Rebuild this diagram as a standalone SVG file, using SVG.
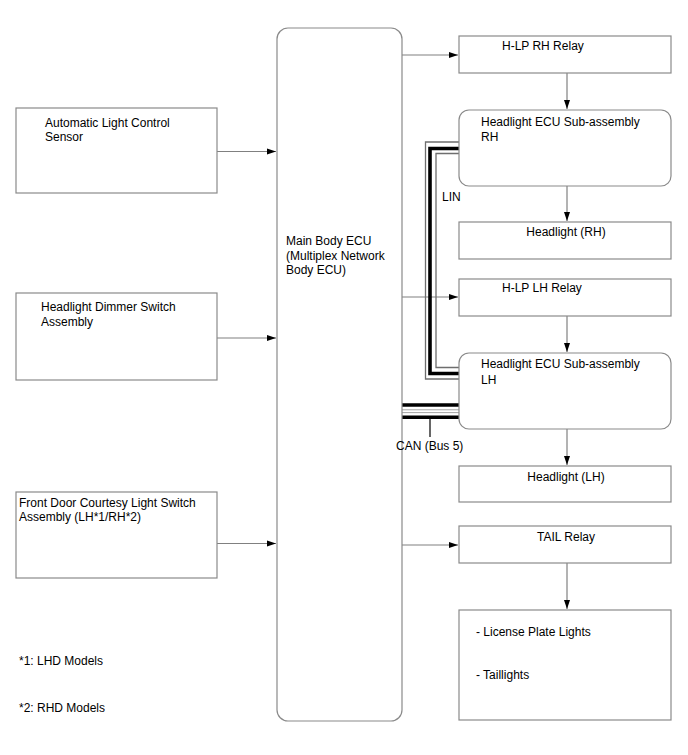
<svg xmlns="http://www.w3.org/2000/svg" width="688" height="755" viewBox="0 0 688 755">
<style>
.box{fill:#fff;stroke:#8a8a8a;stroke-width:1.2}
.t{font-family:"Liberation Sans",Arial,sans-serif;font-size:12px;fill:#000}
.c{text-anchor:middle}
.ln{fill:none;stroke:#808080;stroke-width:1.2}
.bus{fill:none;stroke:#000;stroke-width:3.6}
.g{fill:none;stroke:#6e6e6e;stroke-width:1.3}
.gc{fill:none;stroke:#9a9a9a;stroke-width:0.9}
</style>
<defs>
<marker id="ah" markerWidth="10" markerHeight="8" refX="9" refY="4" orient="auto" markerUnits="userSpaceOnUse">
<path d="M0,1 L9,4 L0,7 Z" fill="#000"/>
</marker>
</defs>
<rect width="688" height="755" fill="#fff"/>

<g id="connectors">
<line class="ln" x1="217" y1="151.5" x2="276" y2="151.5" marker-end="url(#ah)"/>
<line class="ln" x1="217" y1="338" x2="276" y2="338" marker-end="url(#ah)"/>
<line class="ln" x1="217" y1="543.5" x2="276" y2="543.5" marker-end="url(#ah)"/>
<line class="ln" x1="402" y1="55" x2="458" y2="55" marker-end="url(#ah)"/>
<line class="ln" x1="402" y1="297" x2="458" y2="297" marker-end="url(#ah)"/>
<line class="ln" x1="402" y1="545" x2="458" y2="545" marker-end="url(#ah)"/>
<line class="ln" x1="567" y1="73" x2="567" y2="109" marker-end="url(#ah)"/>
<line class="ln" x1="567" y1="186" x2="567" y2="221" marker-end="url(#ah)"/>
<line class="ln" x1="567" y1="316" x2="567" y2="352" marker-end="url(#ah)"/>
<line class="ln" x1="567" y1="429" x2="567" y2="465" marker-end="url(#ah)"/>
<line class="ln" x1="567" y1="563" x2="567" y2="609" marker-end="url(#ah)"/>
<g id="lin">
<path class="g" d="M459,142 H425.5 V379 H459"/>
<path class="bus" d="M459,148.5 H430 V373.5 H459"/>
<path class="g" d="M459,153.5 H436 V367.5 H459"/>
</g>
<g id="can">
<line class="bus" x1="402" y1="405" x2="459" y2="405"/>
<line class="gc" x1="402" y1="409.8" x2="459" y2="409.8"/>
<line class="gc" x1="402" y1="412.6" x2="459" y2="412.6"/>
<line class="bus" x1="402" y1="417.3" x2="459" y2="417.3"/>
<line x1="430" y1="419" x2="430" y2="437" stroke="#000" stroke-width="1.2"/>
</g>
</g>

<g id="sensor"><rect class="box" x="16" y="108" width="201" height="85"/>
<text class="t" x="45" y="127">Automatic Light Control</text><text class="t" x="45" y="141">Sensor</text></g>
<g id="dimmer"><rect class="box" x="16" y="293" width="201" height="87"/>
<text class="t" x="41" y="311">Headlight Dimmer Switch</text><text class="t" x="41" y="326">Assembly</text></g>
<g id="door"><rect class="box" x="16" y="492" width="201" height="86"/>
<text class="t" x="19" y="507">Front Door Courtesy Light Switch</text><text class="t" x="19" y="521">Assembly (LH*1/RH*2)</text></g>

<g id="mainecu"><rect class="box" x="277" y="28" width="125" height="693" rx="11"/>
<text class="t" x="286" y="245">Main Body ECU</text><text class="t" x="286" y="260">(Multiplex Network</text><text class="t" x="286" y="274">Body ECU)</text></g>

<g id="hlprh"><rect class="box" x="459" y="36" width="212" height="37"/><text class="t" x="502" y="50">H-LP RH Relay</text></g>
<g id="ecurh"><rect class="box" x="459" y="110" width="212" height="76" rx="10"/>
<text class="t" x="481" y="126">Headlight ECU Sub-assembly</text><text class="t" x="481" y="141">RH</text></g>
<g id="hlrh"><rect class="box" x="459" y="222" width="212" height="37"/><text class="t c" x="566" y="236">Headlight (RH)</text></g>
<g id="hlplh"><rect class="box" x="459" y="279" width="212" height="37"/><text class="t" x="502" y="292">H-LP LH Relay</text></g>
<g id="eculh"><rect class="box" x="459" y="353" width="212" height="76" rx="10"/>
<text class="t" x="481" y="368">Headlight ECU Sub-assembly</text><text class="t" x="481" y="384">LH</text></g>
<g id="hllh"><rect class="box" x="459" y="466" width="212" height="36"/><text class="t c" x="566" y="481">Headlight (LH)</text></g>
<g id="tail"><rect class="box" x="459" y="526" width="212" height="37"/><text class="t c" x="566" y="541">TAIL Relay</text></g>
<g id="lights"><rect class="box" x="459" y="610" width="212" height="110"/>
<text class="t" x="476" y="636">- License Plate Lights</text><text class="t" x="476" y="679">- Taillights</text></g>

<text class="t" x="442" y="201">LIN</text>
<text class="t" x="396" y="450">CAN (Bus 5)</text>
<text class="t" x="19" y="665">*1: LHD Models</text>
<text class="t" x="19" y="712">*2: RHD Models</text>
</svg>
